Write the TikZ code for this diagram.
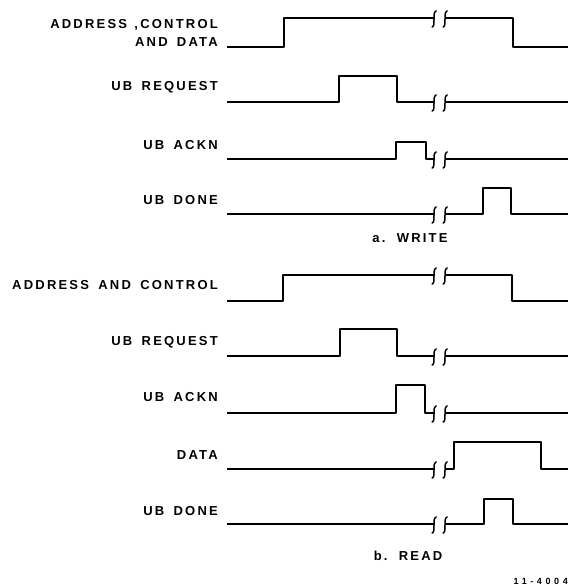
\documentclass[tikz,border=0pt]{standalone}
\usepackage{fontspec}
\newfontfamily\lblfont[LetterSpace=17,WordSpace=1.6]{Liberation Sans}
\newfontfamily\smallfont[LetterSpace=40]{Liberation Sans}
\begin{document}
\begin{tikzpicture}[x=1pt,y=-1pt,
  sig/.style={line width=1.7pt,line join=round},
  lbl/.style={anchor=east,inner sep=0pt,font=\lblfont\bfseries\fontsize{13}{17}\selectfont,align=right},
  captxt/.style={inner sep=0pt,font=\lblfont\bfseries\fontsize{13}{14}\selectfont},
  brk/.pic={\draw[line width=1.5pt,line cap=round] (2.2,-7) .. controls (-0.5,-6) and (0.2,-2) .. (0,1) .. controls (-0.2,4) and (0.6,8) .. (-1.8,9);}]
\useasboundingbox (0,0) rectangle (571,586);
% ---- a. WRITE ----
\node[lbl] (w1a) at (218,25) {ADDRESS\hspace{-2pt} ,CONTROL};
\node[lbl] (w1b) at (218,42) {AND DATA};
\node[lbl] (w2) at (218,87) {UB REQUEST};
\node[lbl] (w3) at (218,145) {UB ACKN};
\node[lbl] (w4) at (218,200) {UB DONE};
\draw[sig] (227,47) -- (284,47) -- (284,18) -- (434,18);
\draw[sig] (445,18) -- (513,18) -- (513,47) -- (568,47);
\pic at (434,18) {brk}; \pic at (445,18) {brk};
\draw[sig] (227,102) -- (339,102) -- (339,76) -- (397,76) -- (397,102) -- (434,102);
\draw[sig] (445,102) -- (568,102);
\pic at (434,102) {brk}; \pic at (445,102) {brk};
\draw[sig] (227,159) -- (396,159) -- (396,142) -- (426,142) -- (426,159) -- (434,159);
\draw[sig] (445,159) -- (568,159);
\pic at (434,159) {brk}; \pic at (445,159) {brk};
\draw[sig] (227,214) -- (434,214);
\draw[sig] (445,214) -- (483,214) -- (483,188) -- (511,188) -- (511,214) -- (568,214);
\pic at (434,214) {brk}; \pic at (445,214) {brk};
\node[captxt] (wt) at (410,238) {a. WRITE};
% ---- b. READ ----
\node[lbl] (r1) at (218,285) {ADDRESS AND CONTROL};
\node[lbl] (r2) at (218,342) {UB REQUEST};
\node[lbl] (r3) at (218,397) {UB ACKN};
\node[lbl] (r4) at (218,455) {DATA};
\node[lbl] (r5) at (218,511) {UB DONE};
\draw[sig] (227,301) -- (283,301) -- (283,275) -- (434,275);
\draw[sig] (445,275) -- (512,275) -- (512,301) -- (568,301);
\pic at (434,275) {brk}; \pic at (445,275) {brk};
\draw[sig] (227,356) -- (340,356) -- (340,329) -- (397,329) -- (397,356) -- (434,356);
\draw[sig] (445,356) -- (568,356);
\pic at (434,356) {brk}; \pic at (445,356) {brk};
\draw[sig] (227,413) -- (396,413) -- (396,385) -- (425,385) -- (425,413) -- (434,413);
\draw[sig] (445,413) -- (568,413);
\pic at (434,413) {brk}; \pic at (445,413) {brk};
\draw[sig] (227,469) -- (434,469);
\draw[sig] (445,469) -- (454,469) -- (454,442) -- (541,442) -- (541,469) -- (568,469);
\pic at (434,469) {brk}; \pic at (445,469) {brk};
\draw[sig] (227,524) -- (434,524);
\draw[sig] (445,524) -- (484,524) -- (484,499) -- (513,499) -- (513,524) -- (568,524);
\pic at (434,524) {brk}; \pic at (445,524) {brk};
\node[captxt] (rt) at (408,556) {b. READ};
\node[anchor=east,inner sep=0pt,font=\smallfont\bfseries\fontsize{9}{10}\selectfont] (id) at (568,581) {11-4004};
\end{tikzpicture}
\end{document}
